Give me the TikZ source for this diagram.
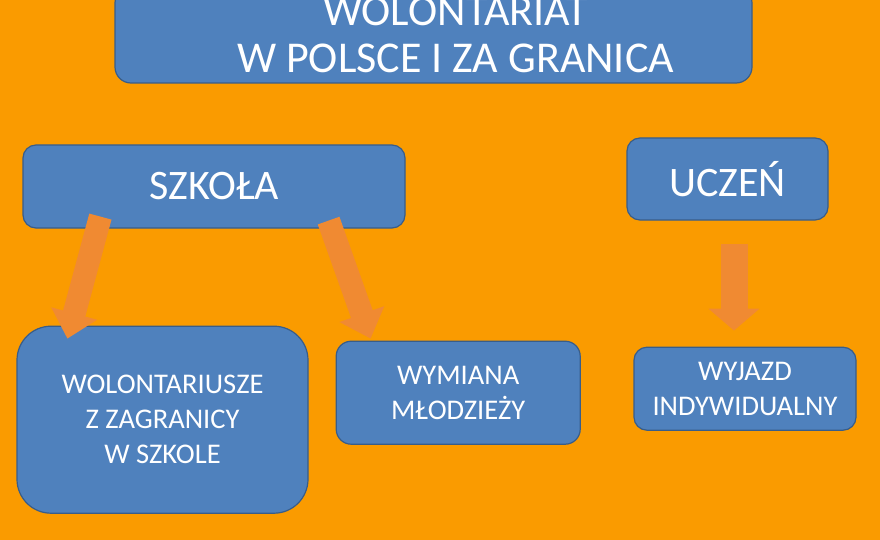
\documentclass[tikz,border=0pt]{standalone}
\usepackage{fontspec}
\setmainfont{Carlito}
\usepackage{tikz}
\usetikzlibrary{shapes, arrows.meta, positioning, calc, backgrounds}
\definecolor{bgorange}{RGB}{250,155,0}
\definecolor{boxblue}{RGB}{79,129,189}
\definecolor{boxedge}{RGB}{56,93,138}
\definecolor{arrorange}{RGB}{240,138,50}
\tikzstyle{rect} = [draw=boxedge, line width=1.2pt, fill=boxblue, text=white, rectangle, rounded corners=13pt, align=center, inner sep=0pt, font=\fontsize{28.5}{35}\selectfont]
\tikzstyle{rectbig} = [rect, font=\fontsize{42}{47}\selectfont]
\tikzstyle{fatline} = [draw=arrorange, line width=23pt, -{Triangle[width=46pt, length=26pt]}]

\begin{document}
\begin{tikzpicture}[x=1pt, y=-1pt]
	\useasboundingbox [fill=bgorange] (0,0) rectangle (880,540);
	\node [rectbig, rounded corners=16pt, minimum width=637pt, minimum height=96pt, font=\fontsize{44}{47}\selectfont] (title) at (433.5,35) {\hspace*{44pt}WOLONTARIAT\\\hspace*{44pt}W POLSCE I ZA GRANICA};
	\node [rectbig, minimum width=382pt, minimum height=83pt] (szkola) at (214,186.5) {SZKOŁA};
	\node [rectbig, minimum width=201pt, minimum height=82pt] (uczen) at (727.5,179) {UCZEŃ};
	\node [rect, rounded corners=34pt, minimum width=291pt, minimum height=187pt, below=97pt of szkola.south west, anchor=north west, xshift=-6pt] (wolont) {WOLONTARIUSZE\\Z ZAGRANICY\\W SZKOLE};
	\node [rect, rounded corners=15pt, minimum width=244pt, minimum height=103pt, right=27pt of wolont.north east, anchor=north west, yshift=-15pt] (wymiana) {WYMIANA\\MŁODZIEŻY};
	\node [rect, minimum width=222pt, minimum height=83pt, below=126pt of uczen.south, xshift=17.5pt] (wyjazd) {WYJAZD\\INDYWIDUALNY};
	
	\path [fatline] ($(szkola.south west)+(78,-12)$) -- ($(wolont.north west)+(51,13)$);
	\path [fatline] ($(szkola.south east)+(-77,-8)$) -- ($(wymiana.north west)+(35,-2)$);
	\path [fatline, line width=27pt, -{Triangle[width=50pt, length=22pt]}] ($(uczen.south)+(6.5,23)$) -- ($(wyjazd.north)+(-11,-16)$);
\end{tikzpicture}
\end{document}
